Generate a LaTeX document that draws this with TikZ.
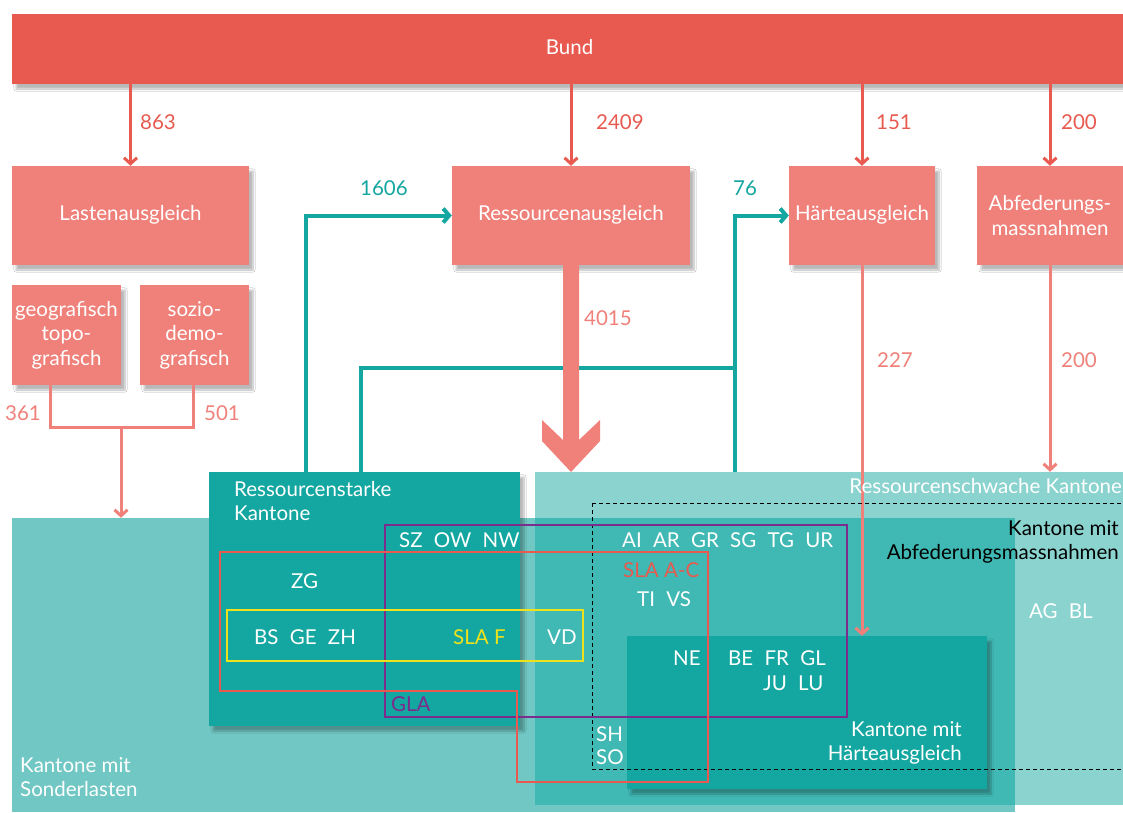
\documentclass[tikz,border=0pt]{standalone}
\usepackage{fontspec}
\setmainfont{Lato}
\usetikzlibrary{arrows.meta,shadows.blur}
\definecolor{bundred}{HTML}{E85A4F}
\definecolor{salmon}{HTML}{F0817A}
\definecolor{tealdark}{HTML}{14A6A0}
\definecolor{sondercol}{HTML}{70C7C3}
\definecolor{schwachcol}{HTML}{8AD3CF}
\definecolor{overlapcol}{HTML}{40B8B3}
\definecolor{glapurple}{HTML}{7B2C8C}
\definecolor{slayellow}{HTML}{F0E21A}
\newcommand\cgap{\hspace{0.55em}}
\begin{document}
\begin{tikzpicture}[x=1pt,y=-1pt,
  font=\fontsize{20.5}{24.5}\selectfont,
  shad/.style={blur shadow={shadow xshift=4pt, shadow yshift=-5pt, shadow opacity=28, shadow blur steps=8}},
  box/.style={rectangle, fill=salmon, text=white, inner sep=0pt, align=center, shad},
  redarrow/.style={draw=bundred, line width=3pt, -{Straight Barb[length=6pt,width=13pt]}},
  lightarrow/.style={draw=salmon, line width=3pt, -{Straight Barb[length=6pt,width=13pt]}},
  lightline/.style={draw=salmon, line width=3pt},
  tealarrow/.style={draw=tealdark, line width=4pt, -{Straight Barb[length=6pt,width=14pt]}},
  tealline/.style={draw=tealdark, line width=4pt},
  region/.style={rectangle, inner sep=0pt},
  lab/.style={inner sep=0pt, anchor=base west, text=white},
  labr/.style={inner sep=0pt, anchor=base east, text=white},
  num/.style={inner sep=0pt, anchor=base west, text=bundred},
  lnum/.style={inner sep=0pt, anchor=base west, text=salmon},
  tnum/.style={inner sep=0pt, anchor=base west, text=tealdark},
]
\useasboundingbox (0,0) rectangle (1123,812);
\clip (0,0) rectangle (1123,812);
\fill[white] (0,0) rectangle (1123,812);

% ---- top boxes ----
\node[box, fill=bundred, minimum width=1115pt, minimum height=70pt] (bund) at (569.5,49) {\raisebox{5pt}{Bund}};
\node[box, minimum width=237pt, minimum height=99pt] (lasten) at (130.5,215.5) {\raisebox{6pt}{Lastenausgleich}};
\node[box, minimum width=238pt, minimum height=99pt] (ressaus) at (571,215.5) {\raisebox{6pt}{Ressourcenausgleich}};
\node[box, minimum width=146pt, minimum height=99pt] (haerte) at (862,215.5) {\raisebox{6pt}{Härteausgleich}};
\node[box, minimum width=146pt, minimum height=99pt] (abfed) at (1050,215.5) {Abfederungs-\\massnahmen};
\node[box, minimum width=109pt, minimum height=100pt] (geo) at (66.5,335) {geografisch\\topo-\\grafisch};
\node[box, minimum width=109pt, minimum height=100pt] (sozio) at (194.5,335) {sozio-\\demo-\\grafisch};

% ---- arrows from Bund ----
\draw[redarrow] (lasten.north |- bund.south) -- (lasten.north);
\draw[redarrow] (ressaus.north |- bund.south) -- (ressaus.north);
\draw[redarrow] (haerte.north |- bund.south) -- (haerte.north);
\draw[redarrow] (abfed.north |- bund.south) -- (abfed.north);
\node[num] (n863) at (140,129) {863};
\node[num] (n2409) at (596,129) {2409};
\node[num] (n151) at (876,129) {151};
\node[num] (n200a) at (1061,129) {200};

% ---- lower regions ----
\node[region, fill=sondercol, minimum width=1003pt, minimum height=294pt] (sonder) at (513.5,665) {};
\node[region, fill=schwachcol, minimum width=588pt, minimum height=333pt] (schwach) at (829,638.5) {};
\fill[overlapcol] (535,518) rectangle (1015,805);
\node[region, fill=tealdark, minimum width=311pt, minimum height=254pt, shad] (starke) at (364.5,599) {};
\node[region, fill=tealdark, minimum width=360pt, minimum height=153pt, shad] (haertekt) at (807,712.5) {};

% ---- Lastenausgleich sub-flows ----
\coordinate (g1) at (50,385);
\coordinate (s1) at (193,385);
\coordinate (jm) at (121,427);
\draw[lightline] (g1) |- (s1 |- jm) -- (s1);
\draw[lightarrow] (jm) -- (jm |- sonder.north);
\node[lnum] (n361) at (5,420) {361};
\node[lnum] (n501) at (204,420) {501};

% ---- teal flows ----
\coordinate (t1) at (306,472);
\coordinate (t2) at (361,472);
\coordinate (t3) at (735,472);
\coordinate (t4) at (735,368);
\draw[tealarrow] (t1) |- (ressaus.west);
\draw[tealline] (t2) |- (t4);
\draw[tealarrow] (t3) |- (haerte.west);
\node[tnum] (n1606) at (360,195) {1606};
\node[tnum] (n76) at (733,195) {76};

% ---- 4015 big arrow ----
\fill[salmon] (563,265) -- (579,265) -- (579,440) -- (600,420) -- (600,441) -- (571,472)
  -- (542,441) -- (542,420) -- (563,440) -- cycle;
\node[lnum] (n4015) at (584,325) {4015};

% ---- Haerte / Abfederung lower flows ----
\draw[lightarrow] (haerte.south) -- (haerte.south |- haertekt.north);
\draw[lightarrow] (abfed.south) -- (abfed.south |- schwach.north);
\node[lnum] (n227) at (877,367) {227};
\node[lnum] (n200b) at (1061,367) {200};

% ---- outlines ----
\draw[black, line width=0.8pt, dash pattern=on 4pt off 3pt] (592,503) rectangle (1140,769);
\draw[glapurple, line width=2pt] (385,525) rectangle (847,717);
\draw[bundred, line width=2pt] (220,552) -- (708,552) -- (708,782) -- (517,782) -- (517,691) -- (220,691) -- cycle;
\draw[slayellow, line width=2pt] (227,610) rectangle (583,661);

% ---- texts ----
\node[lab] (rs1) at (234,496) {Ressourcenstarke};
\node[lab] (rs2) at (234,520) {Kantone};
\node[labr] (rw) at (1122,493) {Ressourcenschwache Kantone};
\node[labr, text=black] (ab1) at (1119,535) {Kantone mit};
\node[labr, text=black] (ab2) at (1119,559) {Abfederungsmassnahmen};
\node[lab] (sz) at (399,547) {SZ\cgap OW\cgap NW};
\node[lab] (ai) at (622,547) {AI\cgap AR\cgap GR\cgap SG\cgap TG\cgap UR};
\node[lab, text=bundred] (slaac) at (623,577) {SLA A-C};
\node[lab] (zg) at (291,588) {ZG};
\node[lab] (ti) at (637,606) {TI\cgap VS};
\node[lab] (ag) at (1029,618) {AG\cgap BL};
\node[lab] (bs) at (254,644) {BS\cgap GE\cgap ZH};
\node[lab, text=slayellow] (slaf) at (453,644) {SLA F};
\node[lab] (vd) at (547,644) {VD};
\node[lab] (ne) at (673,665) {NE};
\node[lab] (be) at (728,665) {BE\cgap FR\cgap GL};
\node[lab] (ju) at (763,690) {JU\cgap LU};
\node[lab, text=glapurple] (gla) at (391,711) {GLA};
\node[lab] (sh) at (596,741) {SH};
\node[lab] (so) at (596,764) {SO};
\node[labr] (hk1) at (962,736) {Kantone mit};
\node[labr] (hk2) at (962,760) {Härteausgleich};
\node[lab] (sl1) at (20,772) {Kantone mit};
\node[lab] (sl2) at (20,796) {Sonderlasten};
\end{tikzpicture}
\end{document}
